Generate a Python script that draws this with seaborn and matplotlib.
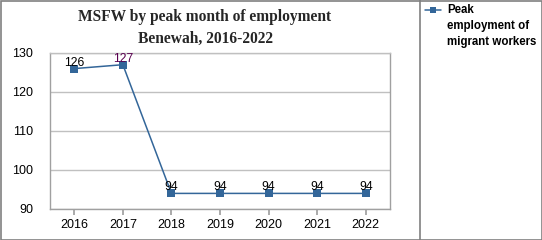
import matplotlib
matplotlib.use("Agg")
import matplotlib.pyplot as plt
import seaborn as sns
import pandas as pd
from matplotlib.lines import Line2D
from matplotlib.patches import Rectangle

years = ["2016", "2017", "2018", "2019", "2020", "2021", "2022"]
values = [126, 127, 94, 94, 94, 94, 94]
label_colors = ["#000000", "#5a0050", "#000000", "#000000", "#000000", "#000000", "#000000"]
title = "MSFW by peak month of employment\nBenewah, 2016-2022"
series_name = "Peak\nemployment of\nmigrant workers"

sns.set_theme(style="white")
plt.rcParams['font.family'] = ['Liberation Sans', 'DejaVu Sans']

df = pd.DataFrame({"year": years, "value": values})

W, H = 542, 240
fig = plt.figure(figsize=(W/100, H/100), dpi=100)
ax = fig.add_axes([50/W, 1-209/H, 340/W, 156/H])

line_color = "#336699"
sns.lineplot(data=df, x="year", y="value", ax=ax, color=line_color, linewidth=1.1,
             marker="s", markersize=5.6, markeredgewidth=0, sort=False, legend=False)

ax.set_xlim(-0.5, len(years) - 0.5)
ax.set_ylim(90, 130)
ax.set_yticks([90, 100, 110, 120, 130])
ax.yaxis.grid(True, color="#c0c0c0", linewidth=1)
ax.set_axisbelow(True)
ax.set_xlabel("")
ax.set_ylabel("")
for s in ["left", "right", "bottom", "top"]:
    ax.spines[s].set_color("#a0a0a0")
    ax.spines[s].set_linewidth(1)
ax.spines["top"].set_color("#c0c0c0")
ax.tick_params(axis="x", which="both", bottom=True, length=4, color="#a0a0a0",
               labelsize=9, labelcolor="#000000", pad=3)
ax.tick_params(axis="y", left=False, labelsize=9, labelcolor="#000000", pad=6)

for i, (v, c) in enumerate(zip(values, label_colors)):
    ax.annotate(str(v), (i, v), xytext=(0, 0), textcoords="offset points",
                ha="center", va="bottom", fontsize=8.8, color=c)

fig.text(205/W, 1-28/H, title, ha="center", va="center", fontsize=11.2,
         fontweight="bold", family=["Liberation Serif", "DejaVu Serif"], linespacing=1.45)

# legend
fig.add_artist(Line2D([425/W, 441/W], [1-10/H, 1-10/H], color=line_color, linewidth=1.1,
                      transform=fig.transFigure))
fig.add_artist(Line2D([433/W], [1-10/H], color=line_color, marker="s", markersize=5,
                      markeredgewidth=0, linestyle="none", transform=fig.transFigure))
fig.text(447/W, 1-4/H, series_name, ha="left", va="top", fontsize=8.3,
         fontweight="bold", linespacing=1.45, color="#000000")

# borders
fig.add_artist(Rectangle((0.5/W, 0.5/H), (W-1)/W, (H-1)/H, fill=False,
                         edgecolor="#808080", linewidth=1.2, transform=fig.transFigure))
fig.add_artist(Line2D([420/W, 420/W], [0, 1], color="#808080", linewidth=1.2,
                      transform=fig.transFigure))

fig.savefig("out.png", dpi=100)
